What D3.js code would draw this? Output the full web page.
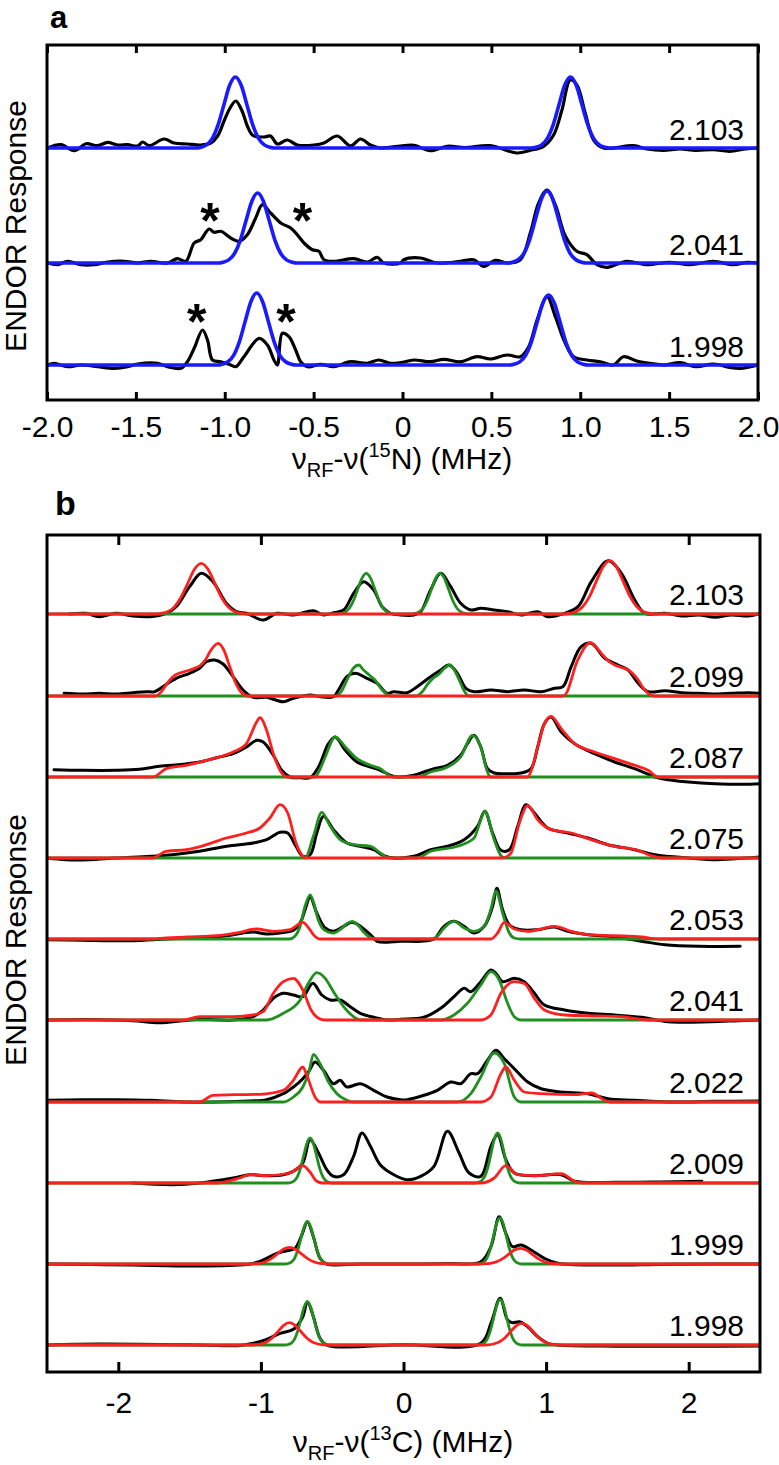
<!DOCTYPE html>
<html><head><meta charset="utf-8">
<script src="https://cdn.jsdelivr.net/npm/d3@7"></script>
<style>
body{margin:0;background:#fff}
text{font-family:"Liberation Sans",Arial,Helvetica,sans-serif;fill:#000}
</style>
</head><body>
<svg id="chart" width="779" height="1465"></svg>
<script>
// ---------------- DATA ----------------
// Panel a: 15N ENDOR (MHz vs a.u.)
const aTicks = [-2.0,-1.5,-1.0,-0.5,0,0.5,1.0,1.5,2.0];
const aTickLabels = ["-2.0","-1.5","-1.0","-0.5","0","0.5","1.0","1.5","2.0"];
const aG = ["2.103","2.041","1.998"];
const aOffsets = [252, 137, 35];

const aExp2103 = [[-1.996,0],[-1.921,3.3],[-1.846,-2.7],[-1.781,4.3],[-1.715,2.3],[-1.659,5.7],[-1.603,3],[-1.547,3.3],[-1.49,2],[-1.462,6],[-1.425,2.3],[-1.341,9],[-1.285,5],[-1.21,4],[-1.135,3],[-1.079,5],[-1.04,12],[-1.004,27],[-0.97,40],[-0.938,47],[-0.905,38],[-0.873,22],[-0.85,14],[-0.835,12],[-0.779,11],[-0.742,12],[-0.704,4],[-0.648,8],[-0.592,3],[-0.498,3],[-0.442,5],[-0.367,12],[-0.292,2],[-0.236,9],[-0.18,3],[-0.124,0],[-0.011,2],[0.064,2.7],[0.157,-2.7],[0.251,1.7],[0.35,0.5],[0.494,2.3],[0.644,-5],[0.719,-2.3],[0.794,1.7],[0.85,13],[0.897,38],[0.944,68],[0.981,63],[1.028,35],[1.075,8],[1.131,0],[1.299,2.3],[1.375,-1],[1.468,-2.3],[1.56,-1],[1.65,-2.3],[1.75,-1.7],[1.84,-3.3],[1.93,-1],[2.0,0]];
const aExp2041 = [[-1.996,0],[-1.94,-1.7],[-1.884,1.7],[-1.809,-1.7],[-1.734,-1.7],[-1.659,1],[-1.566,1.7],[-1.49,0],[-1.416,1.7],[-1.322,0],[-1.266,4.3],[-1.219,1.7],[-1.172,20],[-1.135,23.3],[-1.088,34],[-1.06,30.7],[-1.022,31.7],[-0.966,25],[-0.92,21.7],[-0.873,28.3],[-0.826,45],[-0.788,58.3],[-0.742,50],[-0.685,40],[-0.629,35],[-0.592,28.3],[-0.554,20],[-0.507,13.3],[-0.47,11.7],[-0.442,3.3],[-0.386,1.7],[-0.274,4.3],[-0.198,1],[-0.142,5.7],[-0.105,0],[-0.011,0],[0.007,3.3],[0.101,5],[0.195,0],[0.326,1.7],[0.401,3.3],[0.457,-3.3],[0.522,2.7],[0.588,0],[0.663,3.3],[0.719,30],[0.766,60],[0.813,73],[0.86,58],[0.916,27],[0.981,11.7],[1.037,8.3],[1.094,-1.7],[1.15,-4.3],[1.262,1.7],[1.375,-1.7],[1.5,0.7],[1.618,-1.7],[1.749,1.7],[1.862,-1.7],[1.94,0.7],[2.0,0]];
const aExp1998 = [[-1.996,0],[-1.959,1.7],[-1.884,-1.7],[-1.809,0],[-1.715,-1.7],[-1.622,-3.3],[-1.547,-1.7],[-1.49,1],[-1.378,1.7],[-1.322,-1.7],[-1.247,-3.3],[-1.21,3.3],[-1.172,16.7],[-1.125,35],[-1.097,25],[-1.069,5],[-1.022,3.3],[-0.966,0],[-0.938,-1.7],[-0.892,8.3],[-0.807,26.7],[-0.76,20],[-0.723,5],[-0.704,0],[-0.676,31.7],[-0.639,28.3],[-0.601,15],[-0.573,3.3],[-0.535,-1.7],[-0.461,0.7],[-0.386,-1.7],[-0.292,3.3],[-0.198,1.7],[-0.133,5],[-0.068,1.7],[-0.011,2.3],[0.064,5],[0.157,3.3],[0.232,5.7],[0.326,3.3],[0.419,8.3],[0.494,6],[0.588,10],[0.663,8.3],[0.71,18.3],[0.757,45],[0.813,68.3],[0.86,48.3],[0.916,21.7],[0.963,8.3],[1.037,5],[1.112,3.3],[1.187,0],[1.243,8.3],[1.318,4],[1.393,1.7],[1.47,0],[1.562,2.3],[1.65,-1.7],[1.75,1],[1.84,-2.3],[1.9,-3.3],[2.0,0]];

const aFit2103 = [[-2,0],[-1.16,0],[-1.135,0.8],[-1.1025,3.1],[-1.07,9.6],[-1.0375,23.1],[-1.005,43.1],[-0.9725,62.7],[-0.94,71],[-0.9075,62.7],[-0.875,43.1],[-0.8425,23.1],[-0.81,9.6],[-0.7775,3.1],[-0.745,0.8],[-0.72,0],[0.725,0],[0.75,0.8],[0.7825,3.1],[0.815,9.6],[0.8475,23.1],[0.88,43.1],[0.9125,62.7],[0.945,71],[0.9775,62.7],[1.01,43.1],[1.0425,23.1],[1.075,9.6],[1.1075,3.1],[1.14,0.8],[1.165,0],[2,0]];
const aFit2041 = [[-2,0],[-1.035,0],[-1.01,0.8],[-0.9775,3.1],[-0.945,9.5],[-0.9125,22.7],[-0.88,42.5],[-0.8475,61.8],[-0.815,70],[-0.7825,61.8],[-0.75,42.5],[-0.7175,22.7],[-0.685,9.5],[-0.6525,3.1],[-0.62,0.8],[-0.595,0],[0.593,0],[0.618,0.8],[0.6505,3.2],[0.683,9.7],[0.7155,23.4],[0.748,43.7],[0.7805,63.5],[0.813,72],[0.8455,63.5],[0.878,43.7],[0.9105,23.4],[0.943,9.7],[0.9755,3.2],[1.008,0.8],[1.033,0],[2,0]];
const aFit1998 = [[-2,0],[-1.04,0],[-1.015,0.8],[-0.9825,3.2],[-0.95,9.7],[-0.9175,23.4],[-0.885,43.7],[-0.8525,63.5],[-0.82,72],[-0.7875,63.5],[-0.755,43.7],[-0.7225,23.4],[-0.69,9.7],[-0.6575,3.2],[-0.625,0.8],[-0.6,0],[0.602,0],[0.627,0.8],[0.6595,3.1],[0.692,9.5],[0.7245,22.7],[0.757,42.5],[0.7895,61.8],[0.822,70],[0.8545,61.8],[0.887,42.5],[0.9195,22.7],[0.952,9.5],[0.9845,3.1],[1.017,0.8],[1.042,0],[2,0]];

// asterisks: [trace index, MHz, height above baseline]
const aStars = [[1,-1.083,52],[1,-0.562,52],[2,-1.158,53],[2,-0.655,53]];

// Panel b: 13C ENDOR
const bTicks = [-2,-1,0,1,2];
const bTickLabels = ["-2","-1","0","1","2"];
const bG = ["2.103","2.099","2.087","2.075","2.053","2.041","2.022","2.009","1.999","1.998"];
const bOffsets = [758,676,595,514,433,352,270,189,108,27];

const bExp2103 = [[-2.345,0],[-2.228,0.7],[-2.134,-2.7],[-2.016,0.7],[-1.899,-2],[-1.782,-2.7],[-1.664,0.7],[-1.594,7.3],[-1.5,27.3],[-1.418,40.7],[-1.336,32.3],[-1.242,10.7],[-1.171,2.3],[-1.101,0.7],[-0.984,-6],[-0.889,0.7],[-0.772,-1],[-0.632,3.3],[-0.561,-1],[-0.491,1.3],[-0.42,4],[-0.35,20.7],[-0.28,32.3],[-0.209,24],[-0.15,7.3],[-0.092,0.7],[-0.021,-1],[0.073,-1],[0.12,2.3],[0.19,24],[0.261,40.7],[0.331,27.3],[0.401,10.7],[0.472,4],[0.542,5.7],[0.636,4],[0.73,2.3],[0.824,-1],[0.941,2.3],[1.012,-2.7],[1.129,0.7],[1.223,7.3],[1.317,32.3],[1.435,53.3],[1.528,40.7],[1.622,14],[1.692,0.7],[1.833,0.7],[1.951,-2],[2.07,-1],[2.185,-3.3],[2.3,-1],[2.42,-2],[2.502,0.7]];
const bExp2099 = [[-2.38,2.7],[-2.251,2],[-2.134,2.7],[-2.016,2],[-1.899,3.3],[-1.805,4.3],[-1.746,4.3],[-1.688,9.3],[-1.594,17.7],[-1.5,22.7],[-1.43,27.7],[-1.383,34.3],[-1.324,36],[-1.265,32],[-1.195,19.3],[-1.125,6],[-1.054,-1.3],[-0.96,-1.3],[-0.843,-5.7],[-0.772,-2.3],[-0.655,1],[-0.585,-0.7],[-0.491,-0.7],[-0.456,6],[-0.397,19.3],[-0.338,22.7],[-0.256,17.7],[-0.185,12.7],[-0.115,2.7],[-0.068,4.3],[0.026,3.3],[0.096,9.3],[0.19,19.3],[0.261,26],[0.319,31],[0.378,22.7],[0.437,7.7],[0.495,4.3],[0.613,6],[0.73,4.3],[0.847,6],[0.965,4.3],[1.059,7.7],[1.118,9.3],[1.176,29.3],[1.246,49.3],[1.317,52.7],[1.411,37.7],[1.505,31],[1.575,26],[1.646,12.7],[1.716,4.3],[1.833,5.3],[1.951,3.3],[2.068,2.7],[2.185,2],[2.303,2.7],[2.42,3.3],[2.491,2.7]];
const bExp2087 = [[-2.451,7.3],[-2.251,6.7],[-2.016,6.7],[-1.852,7.7],[-1.711,10.7],[-1.547,12.7],[-1.43,15],[-1.312,19.3],[-1.195,23.3],[-1.101,30],[-1.03,36.7],[-0.984,35],[-0.913,21.7],[-0.854,6.7],[-0.796,0],[-0.725,-0.7],[-0.655,-0.7],[-0.596,10],[-0.526,33.3],[-0.479,40],[-0.408,26.7],[-0.326,15],[-0.232,10],[-0.162,6.7],[-0.092,1.7],[-0.044,0],[0.073,1.7],[0.143,5],[0.214,8.3],[0.308,11.7],[0.401,21.7],[0.448,33.3],[0.495,41.7],[0.542,30],[0.589,8.3],[0.636,4],[0.73,3.3],[0.824,4],[0.894,8.3],[0.941,30],[0.988,53.3],[1.035,60],[1.106,45],[1.2,33.3],[1.34,23.3],[1.481,15],[1.622,8.3],[1.763,0],[1.857,-2.7],[1.998,-5],[2.185,-6.7],[2.373,-7.3],[2.502,-6.7]];
const bExp2075 = [[-2.5,0],[-2.368,-1.7],[-2.204,-1.7],[-2.016,0],[-1.775,1.7],[-1.62,3.3],[-1.43,6.7],[-1.242,11.7],[-1.054,15],[-0.96,18.3],[-0.866,25.7],[-0.812,25],[-0.754,11.7],[-0.706,1.7],[-0.655,3.3],[-0.608,25],[-0.561,41.7],[-0.491,28.3],[-0.397,15],[-0.303,11.7],[-0.209,8.3],[-0.139,2.3],[-0.068,0],[0.073,1.7],[0.19,8.3],[0.308,11.7],[0.425,18.3],[0.519,31.7],[0.57,46.7],[0.625,25],[0.683,7.7],[0.742,8.3],[0.801,31.7],[0.859,53.3],[0.918,45],[1.012,30],[1.153,25],[1.294,20],[1.434,13.3],[1.622,8.3],[1.763,3.3],[1.998,0],[2.2,-1.7],[2.4,0],[2.5,1]];
const bExp2053 = [[-2.498,-0.7],[-2.251,-1.3],[-1.899,-1.7],[-1.664,0],[-1.43,1],[-1.242,3.3],[-1.125,6],[-1.054,7],[-0.96,5],[-0.866,6],[-0.772,8.7],[-0.725,16],[-0.69,29.3],[-0.655,42],[-0.608,26],[-0.549,11],[-0.491,7.7],[-0.42,12.7],[-0.361,16.7],[-0.303,12.7],[-0.232,4.3],[-0.185,-2.3],[-0.115,-3.3],[-0.021,-2.3],[0.12,-2.3],[0.214,0],[0.284,12.7],[0.354,17.7],[0.425,12.7],[0.495,6],[0.566,12.7],[0.625,32.7],[0.655,50.7],[0.695,29.3],[0.742,14.3],[0.824,9.3],[0.941,9.3],[1.059,12],[1.153,7.7],[1.294,4.3],[1.481,2],[1.669,-2.3],[1.833,-5.7],[2.068,-7.3],[2.361,-7.3]];
const bExp2041 = [[-2.5,0],[-2.2,0.5],[-1.899,-0.7],[-1.711,-2.7],[-1.547,-0.7],[-1.43,0.7],[-1.195,0],[-1.054,3.3],[-0.984,10],[-0.913,21.7],[-0.843,26.7],[-0.772,25],[-0.706,23.3],[-0.636,36.7],[-0.573,25],[-0.514,20],[-0.444,20],[-0.373,13.3],[-0.303,6.7],[-0.209,2.7],[-0.115,0],[-0.021,0.7],[0.143,2.7],[0.261,11.7],[0.354,23.3],[0.425,31.7],[0.472,28.3],[0.542,38.3],[0.613,50],[0.648,46.7],[0.695,38.3],[0.777,41.7],[0.847,38.3],[0.918,26.7],[0.988,15],[1.129,10],[1.294,6.7],[1.481,5],[1.669,2.7],[1.857,-1.7],[2.15,-1.7],[2.35,-0.7],[2.5,0]];
const bExp2022 = [[-2.5,1.7],[-2.251,2.3],[-2.016,2.3],[-1.782,1.7],[-1.547,0],[-1.312,0],[-1.078,1],[-0.96,2.3],[-0.843,8.3],[-0.772,15],[-0.706,23.3],[-0.66,31.7],[-0.62,40],[-0.561,31.7],[-0.491,18.3],[-0.444,21.7],[-0.397,15],[-0.303,18.3],[-0.209,11.7],[-0.115,5],[-0.021,2.3],[0.026,2.3],[0.143,6.7],[0.237,11.7],[0.331,20],[0.401,18.3],[0.472,28.3],[0.519,28.3],[0.589,41.7],[0.648,51.7],[0.707,43.3],[0.777,33.3],[0.871,20],[0.965,13.3],[1.106,10],[1.294,8.3],[1.434,3.3],[1.622,1.7],[1.857,0],[2.185,0.7],[2.5,1]];
const bExp2009 = [[-1.899,0],[-1.618,-1.7],[-1.43,0],[-1.195,5],[-1.078,8.3],[-0.96,7.3],[-0.843,8.3],[-0.772,11.7],[-0.706,20],[-0.655,43.3],[-0.596,30],[-0.538,13.3],[-0.491,6.7],[-0.42,8.3],[-0.35,26.7],[-0.291,50],[-0.232,36.7],[-0.162,18],[-0.068,8.3],[0.026,3.3],[0.12,6.7],[0.214,16.7],[0.308,51.7],[0.39,30],[0.46,10],[0.542,6.7],[0.613,36.7],[0.66,48.3],[0.718,23.3],[0.777,10],[0.918,7.3],[1.106,8.3],[1.2,1.7],[1.5,0.7],[1.8,1],[2.092,1.7]];
const bExp1999 = [[-2.5,0],[-2.2,-0.5],[-1.899,-1],[-1.43,-2],[-1.078,0],[-0.984,4],[-0.889,10.7],[-0.819,13.3],[-0.761,15.7],[-0.713,29],[-0.674,42.3],[-0.632,27.3],[-0.585,5.7],[-0.538,0],[-0.3,0],[0,0],[0.3,0.5],[0.542,2.3],[0.613,17.3],[0.671,47.3],[0.718,30.7],[0.765,17.3],[0.824,19],[0.894,14],[0.988,5.7],[1.082,0.7],[1.4,-1],[1.8,-0.5],[2.2,0],[2.5,0]];
const bExp1998 = [[-2.5,0],[-2.134,1],[-1.43,0],[-1.16,-0.7],[-1.054,1.7],[-0.96,5.7],[-0.866,11.7],[-0.772,15.7],[-0.706,28.3],[-0.674,43.3],[-0.632,28.3],[-0.585,6.7],[-0.538,0],[0,0.3],[0.542,1.7],[0.613,21.7],[0.678,46.7],[0.73,25],[0.765,22.3],[0.812,23.3],[0.871,18.3],[0.941,8.3],[1.012,1.7],[1.082,0],[1.5,-1.2],[2.0,-1.2],[2.5,-1]];

const bRed2103 = [[-2.5,0],[-1.73,0],[-1.703,0.6],[-1.656,2.2],[-1.608,6.9],[-1.561,16.5],[-1.513,30.7],[-1.466,44.7],[-1.418,50.7],[-1.371,44.7],[-1.323,30.7],[-1.276,16.5],[-1.228,6.9],[-1.181,2.2],[-1.133,0.6],[-1.1,0],[1.13,0],[1.161,0.6],[1.209,2.3],[1.256,7.2],[1.304,17.3],[1.351,32.3],[1.399,47],[1.446,53.3],[1.494,47],[1.541,32.3],[1.589,17.3],[1.636,7.2],[1.684,2.3],[1.731,0.6],[1.76,0],[2.5,0]];
const bGrn2103 = [[-2.5,0],[-0.46,0],[-0.441,0.5],[-0.411,1.8],[-0.381,5.5],[-0.351,13.2],[-0.321,24.7],[-0.291,35.9],[-0.261,40.7],[-0.231,35.9],[-0.201,24.7],[-0.171,13.2],[-0.141,5.5],[-0.111,1.8],[-0.081,0.5],[-0.06,0],[0.056,0],[0.076,0.5],[0.106,1.8],[0.136,5.5],[0.166,13.2],[0.196,24.7],[0.226,35.9],[0.256,40.7],[0.286,35.9],[0.316,24.7],[0.346,13.2],[0.376,5.5],[0.406,1.8],[0.436,0.5],[0.456,0],[2.5,0]];
const bRed2099 = [[-2.5,0],[-1.74,0],[-1.7,4],[-1.65,14],[-1.6,21],[-1.57,23],[-1.52,25],[-1.47,27.5],[-1.43,30],[-1.39,36],[-1.35,46],[-1.3,52.7],[-1.26,46],[-1.22,30],[-1.18,14],[-1.14,4],[-1.09,0],[1.118,0],[1.15,5],[1.176,16],[1.21,32],[1.246,42.7],[1.28,50.5],[1.312,53.3],[1.35,49],[1.387,42.7],[1.43,36],[1.481,31],[1.53,28.5],[1.575,26],[1.61,22],[1.646,16],[1.68,8],[1.716,2.7],[1.76,0],[2.5,0]];
const bGrn2099 = [[-2.5,0],[-0.47,0],[-0.43,6],[-0.39,18],[-0.35,28],[-0.315,31],[-0.28,26],[-0.24,21],[-0.2,16],[-0.16,8],[-0.12,2],[-0.09,0],[0.09,0],[0.13,4],[0.17,12],[0.21,18],[0.25,22],[0.29,28],[0.325,31],[0.36,25],[0.4,13],[0.43,4],[0.46,0],[2.5,0]];
const bRed2087 = [[-2.5,0],[-1.758,0],[-1.664,8.3],[-1.523,11.7],[-1.336,18.3],[-1.195,25],[-1.101,33.3],[-1.078,40],[-1.03,55],[-1.007,59.3],[-0.96,46.7],[-0.913,23.3],[-0.854,4],[-0.82,0],[0.871,0],[0.9,8],[0.941,30],[0.988,53.3],[1.035,60.7],[1.106,48.3],[1.2,33.3],[1.34,25],[1.481,18.3],[1.622,11.7],[1.716,6.7],[1.786,0],[2.5,0]];
const bGrn2087 = [[-2.5,0],[-0.62,0],[-0.585,8],[-0.549,20],[-0.479,40],[-0.408,30],[-0.326,18.3],[-0.232,11.7],[-0.162,8.3],[-0.103,1.7],[-0.08,0],[0.096,0],[0.19,5],[0.308,10],[0.401,20],[0.484,41.7],[0.542,30],[0.589,5],[0.61,0],[2.5,0]];
const bRed2075 = [[-2.5,0],[-1.763,0],[-1.664,6.7],[-1.523,8.3],[-1.383,13.3],[-1.242,20],[-1.101,25],[-1.007,30],[-0.937,40],[-0.866,53.3],[-0.812,45],[-0.754,15],[-0.706,1.7],[-0.69,0],[0.695,0],[0.754,5],[0.812,35],[0.871,52.3],[0.941,38.3],[1.035,28.3],[1.176,25],[1.317,18.3],[1.481,11.7],[1.646,7.7],[1.739,2.3],[1.81,0],[2.5,0]];
const bGrn2075 = [[-2.5,0],[-0.69,0],[-0.632,21.7],[-0.573,45.7],[-0.514,31.7],[-0.444,18.3],[-0.35,13.3],[-0.232,11.7],[-0.162,5],[-0.103,0],[0.096,0],[0.19,6.7],[0.378,11.7],[0.495,20],[0.542,38.3],[0.57,46.7],[0.636,18.3],[0.683,2.3],[0.707,0],[2.5,0]];
const bRed2053 = [[-2.5,0],[-1.78,0],[-1.664,1],[-1.523,2],[-1.312,3.3],[-1.148,6.7],[-1.03,10],[-0.913,7.7],[-0.796,9.3],[-0.706,16.7],[-0.66,10],[-0.632,4.3],[-0.59,0],[0.613,0],[0.66,6],[0.707,16.7],[0.777,10],[0.871,7.7],[1.059,12.7],[1.176,7.7],[1.294,4.3],[1.481,3.3],[1.669,2],[1.786,0],[2.5,0]];
const bGrn2053 = [[-2.5,0],[-0.8,0],[-0.76,3],[-0.725,12.7],[-0.69,33],[-0.655,44],[-0.625,34],[-0.6,20],[-0.57,11],[-0.53,7],[-0.49,6],[-0.44,10],[-0.4,15],[-0.36,17.7],[-0.32,14],[-0.28,7],[-0.24,2],[-0.2,0],[0.2,0],[0.24,3],[0.284,11],[0.354,17.7],[0.425,11],[0.495,7.7],[0.566,12.7],[0.612,29.3],[0.648,48],[0.695,26],[0.742,6],[0.777,1],[0.82,0],[2.5,0]];
const bRed2041 = [[-2.5,0],[-1.547,0],[-1.43,3.3],[-1.195,3.3],[-1.054,5],[-0.984,8.3],[-0.913,26.7],[-0.843,38.3],[-0.772,41.7],[-0.706,30],[-0.648,10],[-0.596,1.7],[-0.55,0],[0.542,0],[0.613,5],[0.683,26.7],[0.777,38.3],[0.847,36.7],[0.918,21.7],[0.988,10],[1.129,5],[1.364,4],[1.528,3.3],[1.669,0.7],[1.72,0],[2.5,0]];
const bGrn2041 = [[-2.5,0],[-0.96,0],[-0.843,6.7],[-0.725,20],[-0.667,36.7],[-0.608,47.3],[-0.549,41.7],[-0.491,28.3],[-0.42,13.3],[-0.35,3.3],[-0.3,0],[0.261,0],[0.354,5],[0.448,16.7],[0.542,35],[0.613,48.3],[0.671,40],[0.73,16.7],[0.777,3.3],[0.824,0],[2.5,0]];
const bRed2022 = [[-2.5,0],[-1.43,0],[-1.336,6.7],[-1.195,7.3],[-1.007,7.7],[-0.843,11.7],[-0.772,21.7],[-0.706,35],[-0.678,26.7],[-0.62,5],[-0.585,0],[0.542,0],[0.613,5],[0.683,28.3],[0.718,35],[0.777,21.7],[0.847,10],[0.965,8.3],[1.2,7.3],[1.317,9],[1.411,1.7],[1.45,0],[2.5,0]];
const bGrn2022 = [[-2.5,0],[-0.843,0],[-0.772,5],[-0.706,15],[-0.66,31.7],[-0.632,47.7],[-0.585,38.3],[-0.526,20],[-0.467,8.3],[-0.397,1.7],[-0.36,0],[0.378,0],[0.472,8.3],[0.542,25],[0.636,49],[0.707,38.3],[0.777,5],[0.824,0],[2.5,0]];
const bRed2009 = [[-2.5,0],[-1.312,0],[-1.148,5],[-1.078,8.3],[-0.96,7.3],[-0.796,10],[-0.706,17.3],[-0.66,11.7],[-0.608,1.7],[-0.57,0],[0.542,0],[0.636,5],[0.718,17.3],[0.801,8.3],[0.941,7.3],[1.106,9.3],[1.2,1.7],[1.25,0],[2.5,0]];
const bGrn2009 = [[-2.5,0],[-0.81,0],[-0.79,0.5],[-0.7675,2],[-0.745,6.1],[-0.7225,14.6],[-0.7,27.3],[-0.6775,39.7],[-0.655,45],[-0.6325,39.7],[-0.61,27.3],[-0.5875,14.6],[-0.565,6.1],[-0.5425,2],[-0.52,0.5],[-0.5,0],[0.505,0],[0.525,0.6],[0.5475,2.2],[0.57,6.8],[0.5925,16.2],[0.615,30.3],[0.6375,44.1],[0.66,50],[0.6825,44.1],[0.705,30.3],[0.7275,16.2],[0.75,6.8],[0.7725,2.2],[0.795,0.6],[0.815,0],[2.5,0]];
const bRed1999 = [[-2.5,0],[-1.08,0],[-1.055,0.2],[-1.0125,0.7],[-0.97,2.3],[-0.9275,5.4],[-0.885,10.1],[-0.8425,14.7],[-0.8,16.7],[-0.7575,14.7],[-0.715,10.1],[-0.6725,5.4],[-0.63,2.3],[-0.5875,0.7],[-0.545,0.2],[-0.52,0],[0.54,0],[0.565,0.2],[0.6075,0.7],[0.65,2.1],[0.6925,5.1],[0.735,9.5],[0.7775,13.9],[0.82,15.7],[0.8625,13.9],[0.905,9.5],[0.9475,5.1],[0.99,2.1],[1.0325,0.7],[1.075,0.2],[1.1,0],[2.5,0]];
const bGrn1999 = [[-2.5,0],[-0.83,0],[-0.809,0.5],[-0.7865,1.9],[-0.764,5.7],[-0.7415,13.7],[-0.719,25.7],[-0.6965,37.3],[-0.674,42.3],[-0.6515,37.3],[-0.629,25.7],[-0.6065,13.7],[-0.584,5.7],[-0.5615,1.9],[-0.539,0.5],[-0.52,0],[0.52,0],[0.541,0.5],[0.5635,2],[0.586,6.2],[0.6085,14.9],[0.631,27.9],[0.6535,40.6],[0.676,46],[0.6985,40.6],[0.721,27.9],[0.7435,14.9],[0.766,6.2],[0.7885,2],[0.811,0.5],[0.83,0],[2.5,0]];
const bRed1998 = [[-2.5,0],[-1.06,0],[-1.04,0.2],[-1.0,1],[-0.96,3],[-0.92,7.2],[-0.88,13.5],[-0.84,19.7],[-0.8,22.3],[-0.76,19.7],[-0.72,13.5],[-0.68,7.2],[-0.64,3],[-0.6,1],[-0.56,0.2],[-0.54,0],[0.57,0],[0.59,0.2],[0.63,1],[0.67,2.9],[0.71,7],[0.75,13.2],[0.79,19.2],[0.83,21.7],[0.87,19.2],[0.91,13.2],[0.95,7],[0.99,2.9],[1.03,1],[1.07,0.2],[1.09,0],[2.5,0]];
const bGrn1998 = [[-2.5,0],[-0.83,0],[-0.809,0.5],[-0.7865,1.9],[-0.764,5.9],[-0.7415,14.1],[-0.719,26.3],[-0.6965,38.2],[-0.674,43.3],[-0.6515,38.2],[-0.629,26.3],[-0.6065,14.1],[-0.584,5.9],[-0.5615,1.9],[-0.539,0.5],[-0.52,0],[0.52,0],[0.543,0.5],[0.5655,2],[0.588,6.2],[0.6105,14.8],[0.633,27.7],[0.6555,40.3],[0.678,45.7],[0.7005,40.3],[0.723,27.7],[0.7455,14.8],[0.768,6.2],[0.7905,2],[0.813,0.5],[0.83,0],[2.5,0]];

// ---------------- DRAWING ----------------
const svg = d3.select("#chart");
const FONT = 30;

const aSeries = [
  {exp:aExp2103, fits:[aFit2103]},
  {exp:aExp2041, fits:[aFit2041]},
  {exp:aExp1998, fits:[aFit1998]}
];
const bSeries = [
  {exp:bExp2103, g:bGrn2103, r:bRed2103},
  {exp:bExp2099, g:bGrn2099, r:bRed2099},
  {exp:bExp2087, g:bGrn2087, r:bRed2087},
  {exp:bExp2075, g:bGrn2075, r:bRed2075},
  {exp:bExp2053, g:bGrn2053, r:bRed2053},
  {exp:bExp2041, g:bGrn2041, r:bRed2041},
  {exp:bExp2022, g:bGrn2022, r:bRed2022},
  {exp:bExp2009, g:bGrn2009, r:bRed2009},
  {exp:bExp1999, g:bGrn1999, r:bRed1999},
  {exp:bExp1998, g:bGrn1998, r:bRed1998}
];

const COL = {exp:"#000000", blue:"#1a1aff", red:"#ff1f1f", green:"#1f8f1f"};

function panel(opt){
  const x = d3.scaleLinear().domain(opt.xDomain).range([opt.left, opt.right]);
  const y = d3.scaleLinear().domain(opt.yDomain).range([opt.bottom, opt.top]);
  const g = svg.append("g");
  const clipId = "clip"+opt.name;
  svg.append("clipPath").attr("id",clipId).append("rect")
     .attr("x",opt.left).attr("y",opt.top).attr("width",opt.right-opt.left).attr("height",opt.bottom-opt.top);
  const plot = g.append("g").attr("clip-path","url(#"+clipId+")");
  return {x,y,g,plot};
}

function drawLine(p, data, off, color, width, curve){
  const line = d3.line().x(d=>p.x(d[0])).y(d=>p.y(off+d[1])).curve(curve);
  p.plot.append("path").datum(data).attr("d",line)
    .attr("fill","none").attr("stroke",color).attr("stroke-width",width)
    .attr("stroke-linejoin","round").attr("stroke-linecap","round");
}

function frameAndAxes(p, opt, ticks, labels){
  const axB = d3.axisBottom(p.x).tickValues(ticks).tickSize(-opt.tick).tickPadding(opt.pad)
     .tickFormat((d,i)=>labels[i]);
  const gb = p.g.append("g").attr("transform","translate(0,"+opt.bottom+")").call(axB);
  gb.select(".domain").remove();
  gb.selectAll("line").attr("stroke","#000").attr("stroke-width",3);
  gb.selectAll("text").attr("font-size",FONT).attr("font-family","Liberation Sans, Arial, sans-serif").attr("fill","#000");
  const axT = d3.axisTop(p.x).tickValues(ticks).tickSize(-opt.tick).tickFormat("");
  const gt = p.g.append("g").attr("transform","translate(0,"+opt.top+")").call(axT);
  gt.select(".domain").remove();
  gt.selectAll("line").attr("stroke","#000").attr("stroke-width",3);
  p.g.append("rect").attr("x",opt.left).attr("y",opt.top)
    .attr("width",opt.right-opt.left).attr("height",opt.bottom-opt.top)
    .attr("fill","none").attr("stroke","#000").attr("stroke-width",3);
}

function xTitle(p, cx, yb, sup){
  const t = p.g.append("text").attr("x",cx).attr("y",yb).attr("text-anchor","middle").attr("font-size",FONT);
  t.append("tspan").text("ν");
  t.append("tspan").attr("font-size",20).attr("dy",8).text("RF");
  t.append("tspan").attr("dy",-8).text("-ν(");
  t.append("tspan").attr("font-size",20).attr("dy",-12).text(sup);
  t.append("tspan").attr("dy",12).text(sup==="15"?"N) (MHz)":"C) (MHz)");
}
function yTitle(p, cx, cy){
  p.g.append("text").attr("transform","translate("+cx+","+cy+") rotate(-90)")
   .attr("text-anchor","middle").attr("font-size",FONT).text("ENDOR Response");
}

// ---- Panel a ----
const optA = {name:"A", xDomain:[-2,2], yDomain:[0,355], left:47, right:758, top:45, bottom:400, tick:8, pad:16};
const pA = panel(optA);
aSeries.forEach((s,i)=>{
  drawLine(pA, s.exp, aOffsets[i], COL.exp, 3.2, d3.curveCatmullRom.alpha(0.5));
  s.fits.forEach(f=>drawLine(pA, f, aOffsets[i], COL.blue, 3.6, d3.curveMonotoneX));
  pA.g.append("text").attr("x",744).attr("y",pA.y(aOffsets[i])-8)
    .attr("text-anchor","end").attr("font-size",FONT).text(aG[i]);
});
aStars.forEach(s=>{
  pA.g.append("text").attr("x",pA.x(s[1])).attr("y",pA.y(aOffsets[s[0]]+s[2])+27)
    .attr("text-anchor","middle").attr("font-size",50).attr("font-weight","bold").text("*");
});
frameAndAxes(pA, optA, aTicks, aTickLabels);
xTitle(pA, 402, 469, "15");
yTitle(pA, 26, 226);
svg.append("text").attr("x",50).attr("y",28).attr("font-size",31).attr("font-weight","bold").text("a");

// ---- Panel b ----
const optB = {name:"B", xDomain:[-2.5,2.5], yDomain:[0,837], left:47, right:760, top:535, bottom:1372, tick:10, pad:20};
const pB = panel(optB);
bSeries.forEach((s,i)=>{
  drawLine(pB, s.exp, bOffsets[i], COL.exp, 3, d3.curveCatmullRom.alpha(0.5));
  drawLine(pB, s.g, bOffsets[i], COL.green, 2.8, d3.curveMonotoneX);
  drawLine(pB, s.r, bOffsets[i], COL.red, 2.8, d3.curveMonotoneX);
  pB.g.append("text").attr("x",744).attr("y",pB.y(bOffsets[i])-9)
    .attr("text-anchor","end").attr("font-size",FONT).text(bG[i]);
});
frameAndAxes(pB, optB, bTicks, bTickLabels);
xTitle(pB, 403, 1452, "13");
yTitle(pB, 26, 940);
svg.append("text").attr("x",55).attr("y",515).attr("font-size",34).attr("font-weight","bold").text("b");
</script>
</body></html>
